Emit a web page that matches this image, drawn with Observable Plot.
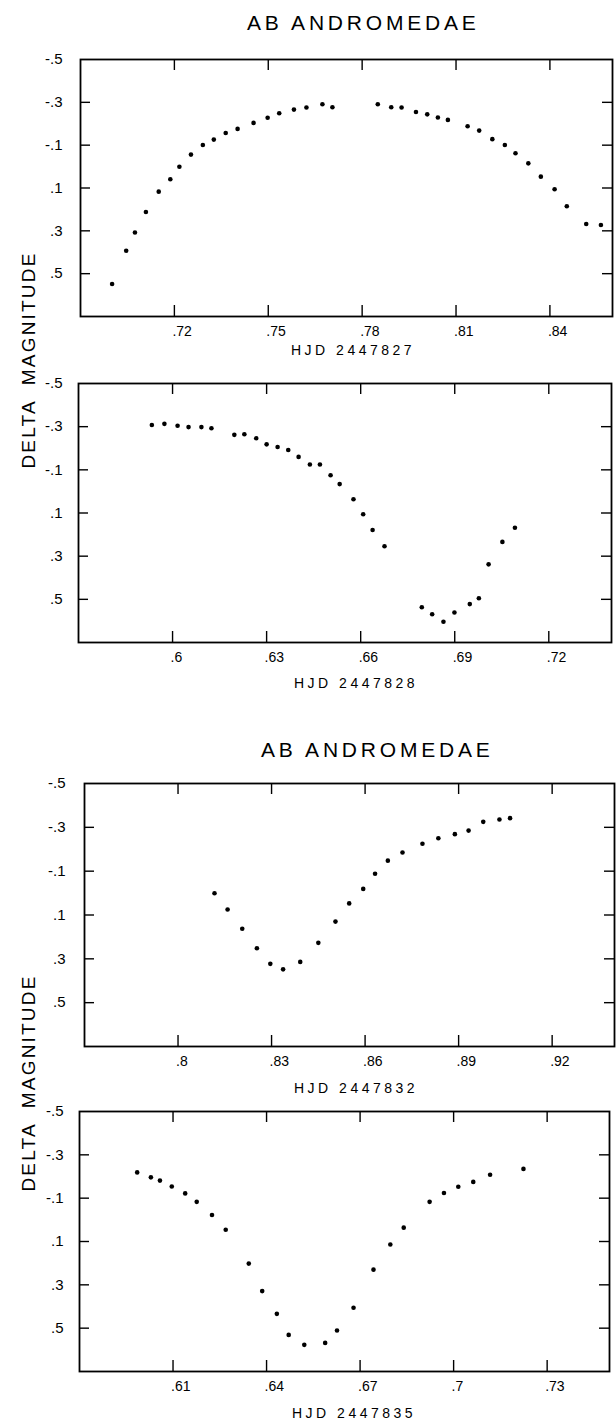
<!DOCTYPE html>
<html><head><meta charset="utf-8">
<script src="https://cdn.jsdelivr.net/npm/d3@7"></script>
<script src="https://cdn.jsdelivr.net/npm/@observablehq/plot@0.6"></script>
<style>
body{margin:0;background:#fff;}
#wrap{position:relative;width:616px;height:1420px;overflow:hidden;font-family:"Liberation Sans",Arial,sans-serif;color:#000;background:#fff;}
.t{position:absolute;white-space:nowrap;line-height:1;color:#000;}
#wrap svg{position:absolute;left:0;}
</style></head><body><div id="wrap"></div>
<script>
// ---- data ----
const hjd27 = [0.7001,0.7046,0.7074,0.7109,0.7150,0.7187,0.7216,0.7253,0.7291,0.7326,0.7364,0.7402,0.7453,0.7498,0.7535,0.7582,0.7622,0.7673,0.7705,0.7850,0.7893,0.7926,0.7972,0.8008,0.8042,0.8074,0.8137,0.8174,0.8216,0.8256,0.8290,0.8331,0.8371,0.8415,0.8454,0.8516,0.8563];
const mag27 = [0.548,0.393,0.308,0.212,0.117,0.059,0.001,-0.056,-0.101,-0.126,-0.157,-0.176,-0.204,-0.228,-0.249,-0.266,-0.276,-0.291,-0.277,-0.291,-0.277,-0.276,-0.255,-0.244,-0.229,-0.218,-0.188,-0.168,-0.128,-0.101,-0.062,-0.015,0.047,0.106,0.185,0.268,0.273];
const hjd28 = [0.5934,0.5974,0.6016,0.6051,0.6092,0.6124,0.6197,0.6229,0.6267,0.6300,0.6335,0.6369,0.6402,0.6438,0.6470,0.6504,0.6533,0.6577,0.6608,0.6638,0.6676,0.6795,0.6828,0.6864,0.6899,0.6948,0.6977,0.7008,0.7052,0.7092];
const mag28 = [-0.308,-0.313,-0.304,-0.298,-0.298,-0.293,-0.262,-0.265,-0.246,-0.218,-0.206,-0.192,-0.160,-0.125,-0.125,-0.075,-0.034,0.036,0.106,0.179,0.254,0.537,0.569,0.604,0.561,0.522,0.495,0.338,0.234,0.168];
const hjd32 = [0.8117,0.8159,0.8206,0.8253,0.8296,0.8337,0.8392,0.8450,0.8505,0.8549,0.8594,0.8632,0.8673,0.8720,0.8784,0.8835,0.8888,0.8932,0.8979,0.9031,0.9065];
const mag32 = [0.001,0.075,0.163,0.252,0.323,0.348,0.314,0.227,0.130,0.047,-0.019,-0.088,-0.148,-0.185,-0.225,-0.250,-0.269,-0.285,-0.325,-0.336,-0.342];
const hjd35 = [0.5985,0.6029,0.6058,0.6096,0.6139,0.6176,0.6225,0.6269,0.6343,0.6386,0.6433,0.6471,0.6521,0.6588,0.6626,0.6679,0.6743,0.6797,0.6840,0.6923,0.6969,0.7015,0.7063,0.7117,0.7224];
const mag35 = [-0.219,-0.196,-0.181,-0.154,-0.122,-0.083,-0.022,0.046,0.202,0.329,0.434,0.531,0.577,0.568,0.511,0.406,0.230,0.114,0.036,-0.083,-0.124,-0.153,-0.175,-0.208,-0.235];

const xTicks27 = [0.72,0.75,0.78,0.81,0.84];
const xTicks28 = [0.6,0.63,0.66,0.69,0.72];
const xTicks32 = [0.8,0.83,0.86,0.89,0.92];
const xTicks35 = [0.61,0.64,0.67,0.7,0.73];
const xDomain27 = [0.69,0.86];
const xDomain28 = [0.57,0.74];
const xDomain32 = [0.77,0.94];
const xDomain35 = [0.58,0.75];
const yDomain = [-0.5,0.7];
const yTicks = [-0.3,-0.1,0.1,0.3,0.5];
const yLabels = [-0.5,-0.3,-0.1,0.1,0.3,0.5];
const titleText = "AB ANDROMEDAE";
const yTitle = "DELTA  MAGNITUDE";
const xTitles = ["HJD 2447827","HJD 2447828","HJD 2447832","HJD 2447835"];

// ---- layout ----
const wrap = document.getElementById("wrap");
const fmt = d => (d < 0 ? "-" : "") + String(Math.abs(d)).replace(/^0/, "");
const blank = () => "";

function panel(c) {
  const mt = 12, mb = 40;
  const h = c.B - c.T + mt + mb;
  const data = c.x.map((x, i) => ({x, y: c.y[i]}));
  const chart = Plot.plot({
    width: 616, height: h,
    marginLeft: c.L, marginRight: 616 - c.R, marginTop: mt, marginBottom: mb,
    x: {domain: c.xd}, y: {domain: yDomain, reverse: true},
    style: {fontFamily: "'Liberation Sans', Arial, sans-serif", background: "transparent", color: "#000", overflow: "visible"},
    marks: [
      Plot.axisX({ticks: c.xt, anchor: "bottom", tickSize: -11, tickFormat: blank, label: null, strokeWidth: 1.4}),
      Plot.axisX({ticks: c.xt, anchor: "top", tickSize: -10, tickFormat: blank, label: null, strokeWidth: 1.4}),
      Plot.axisX({ticks: c.xt, anchor: "bottom", tickSize: 0, tickPadding: 10, tickFormat: fmt, label: null, fontSize: 14, textAnchor: "start", dx: -2}),
      Plot.axisY({ticks: yTicks, anchor: "left", tickSize: -10, tickFormat: blank, label: null, strokeWidth: 1.4}),
      Plot.axisY({ticks: yTicks, anchor: "right", tickSize: -11, tickFormat: blank, label: null, strokeWidth: 1.4}),
      Plot.axisY({ticks: yLabels, anchor: "left", tickSize: 0, tickPadding: c.pad, tickFormat: fmt, label: null, fontSize: 15}),
      Plot.frame({stroke: "#000", strokeWidth: 1.8}),
      Plot.dot(data, {x: "x", y: "y", r: 2.3, fill: "#000", stroke: null})
    ]
  });
  chart.style.top = (c.T - mt) + "px";
  wrap.appendChild(chart);
}

function txt(s, left, baseline, size, spacing) {
  const d = document.createElement("div");
  d.className = "t";
  d.textContent = s;
  d.style.left = left + "px";
  d.style.top = (baseline - 0.8465 * size) + "px";
  d.style.fontSize = size + "px";
  d.style.letterSpacing = spacing + "px";
  wrap.appendChild(d);
}
function vtxt(s, cx, cy, size, spacing) {
  const d = document.createElement("div");
  d.className = "t";
  d.textContent = s;
  d.style.left = cx + "px";
  d.style.top = cy + "px";
  d.style.fontSize = size + "px";
  d.style.letterSpacing = spacing + "px";
  d.style.whiteSpace = "pre";
  d.style.transform = "translate(-50%,-50%) rotate(-90deg)";
  wrap.appendChild(d);
}

panel({x: hjd27, y: mag27, xd: xDomain27, xt: xTicks27, L: 80, R: 612, T: 59, B: 316, pad: 18});
panel({x: hjd28, y: mag28, xd: xDomain28, xt: xTicks28, L: 78, R: 611, T: 383, B: 642, pad: 16});
panel({x: hjd32, y: mag32, xd: xDomain32, xt: xTicks32, L: 84, R: 614, T: 783, B: 1046, pad: 19});
panel({x: hjd35, y: mag35, xd: xDomain35, xt: xTicks35, L: 79, R: 609, T: 1111, B: 1371, pad: 16});

txt(titleText, 247, 30, 21, 3.8);
txt(titleText, 261, 757, 21, 3.8);
txt(xTitles[0], 291, 355, 14, 3.5);
txt(xTitles[1], 294, 688, 14, 3.5);
txt(xTitles[2], 294, 1093, 14, 3.5);
txt(xTitles[3], 292, 1418, 14, 3.5);
vtxt(yTitle, 28, 360, 19, 2.2);
vtxt(yTitle, 28, 1083, 19, 2.2);
</script></body></html>
